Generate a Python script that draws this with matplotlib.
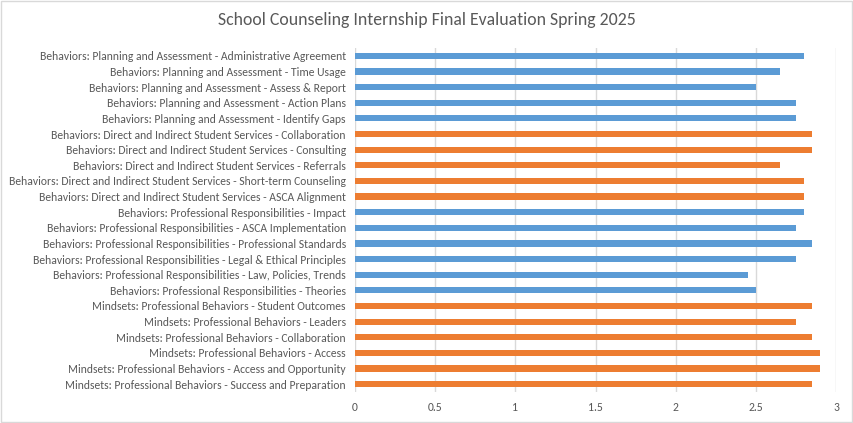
import matplotlib.pyplot as plt
from matplotlib.patches import Rectangle

labels = [
    "Behaviors: Planning and Assessment - Administrative Agreement",
    "Behaviors: Planning and Assessment - Time Usage",
    "Behaviors: Planning and Assessment - Assess & Report",
    "Behaviors: Planning and Assessment - Action Plans",
    "Behaviors: Planning and Assessment - Identify Gaps",
    "Behaviors: Direct and Indirect Student Services - Collaboration",
    "Behaviors: Direct and Indirect Student Services - Consulting",
    "Behaviors: Direct and Indirect Student Services - Referrals",
    "Behaviors: Direct and Indirect Student Services - Short-term Counseling",
    "Behaviors: Direct and Indirect Student Services - ASCA Alignment",
    "Behaviors: Professional Responsibilities - Impact",
    "Behaviors: Professional Responsibilities - ASCA Implementation",
    "Behaviors: Professional Responsibilities - Professional Standards",
    "Behaviors: Professional Responsibilities - Legal & Ethical Principles",
    "Behaviors: Professional Responsibilities - Law, Policies, Trends",
    "Behaviors: Professional Responsibilities - Theories",
    "Mindsets: Professional Behaviors - Student Outcomes",
    "Mindsets: Professional Behaviors - Leaders",
    "Mindsets: Professional Behaviors - Collaboration",
    "Mindsets: Professional Behaviors - Access",
    "Mindsets: Professional Behaviors - Access and Opportunity",
    "Mindsets: Professional Behaviors - Success and Preparation",
]
scores = [2.80, 2.65, 2.50, 2.75, 2.75,
          2.85, 2.85, 2.65, 2.80, 2.80,
          2.80, 2.75, 2.85, 2.75, 2.45, 2.50,
          2.85, 2.75, 2.85, 2.90, 2.90, 2.85]
groups = ["b"] * 5 + ["o"] * 5 + ["b"] * 6 + ["o"] * 6
colors = {"b": "#5B9BD5", "o": "#ED7D31"}
xticks = [0, 0.5, 1, 1.5, 2, 2.5, 3]

plt.rcParams['font.family'] = ['Carlito', 'Lato', 'DejaVu Sans']

fig = plt.figure(figsize=(8.54, 4.23), dpi=100)
ax = fig.add_axes([0.4157, 0.0733, 0.979 - 0.4157, 0.8865 - 0.0733])

ypos = list(range(len(labels)))
ax.barh(ypos, scores, height=0.4, color=[colors[g] for g in groups], zorder=3)

ax.set_xlim(0, 3)
ax.set_ylim(len(labels) - 0.5, -0.5)
ax.set_xticks(xticks)
ax.set_xticklabels([f"{t:g}" for t in xticks])
ax.set_yticks(ypos)
ax.set_yticklabels(labels)
ax.tick_params(axis='both', length=0, labelsize=8.4, colors='#595959')
ax.tick_params(axis='y', pad=6.5)
ax.tick_params(axis='x', pad=7)
ax.grid(axis='x', color='#D9D9D9', linewidth=1, zorder=0)
for s in ax.spines.values():
    s.set_visible(False)

fig.text(0.5, 0.952, "School Counseling Internship Final Evaluation Spring 2025",
         ha='center', va='center', fontsize=12.8, color='#595959')

fig.patches.append(Rectangle((0.001, 0.002), 0.997, 0.996, transform=fig.transFigure,
                             fill=False, edgecolor='#D9D9D9', linewidth=1))

fig.savefig("out.png", dpi=100)
